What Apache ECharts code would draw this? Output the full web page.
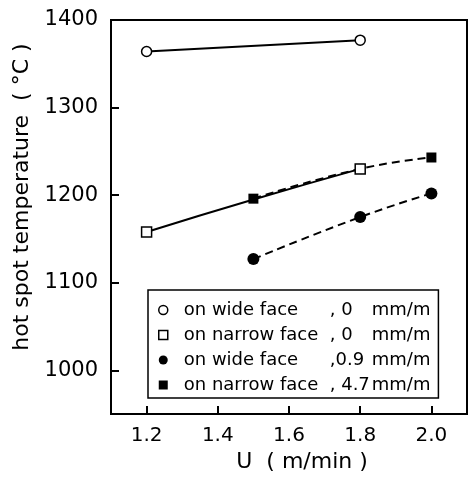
<!DOCTYPE html>
<html>
<head>
<meta charset="utf-8">
<script src="https://cdn.jsdelivr.net/npm/echarts@6/dist/echarts.min.js"></script>
<style>html,body{margin:0;padding:0;background:#fff}#c{width:469px;height:478px}</style>
</head>
<body>
<div id="c"></div>
<script>
// Data
const xTicks = [1.2, 1.4, 1.6, 1.8, 2.0];
const yTicks = [1000, 1100, 1200, 1300, 1400];
const seriesNames = [
  'on wide face , 0 mm/m',
  'on narrow face, 0 mm/m',
  'on wide face ,0.9 mm/m',
  'on narrow face, 4.7 mm/m'
];
const legendParts = [
  ['on wide face', ', 0', 'mm/m'],
  ['on narrow face', ', 0', 'mm/m'],
  ['on wide face', ',0.9', 'mm/m'],
  ['on narrow face', ', 4.7', 'mm/m']
];
const wide0 = [[1.2, 1364], [1.8, 1377]];
const narrow0 = [[1.2, 1158], [1.5, 1195], [1.8, 1230]];
const narrow0Marked = [true, false, true];
const wide09 = [[1.5, 1127], [1.8, 1175], [2.0, 1202]];
const narrow47 = [[1.5, 1196], [1.8, 1230], [2.0, 1243]];

const font = 'DejaVu Sans';
const chart = echarts.init(document.getElementById('c'));
const icons = ['circle', 'rect', 'circle', 'rect'];
const lf = 18;

chart.setOption({
  animation: false,
  backgroundColor: '#fff',
  textStyle: { fontFamily: font, color: '#000' },
  grid: {
    left: 111, right: 2, top: 20, height: 397,
    show: true, borderColor: '#000', borderWidth: 2, backgroundColor: 'transparent'
  },
  xAxis: {
    type: 'value', min: 1.1, max: 2.1,
    name: 'U  ( m/min )', nameLocation: 'middle', nameGap: 33,
    nameTextStyle: { fontSize: 22, color: '#000', fontFamily: font, padding: [0, 0, 0, 26] },
    axisLine: { show: true, lineStyle: { color: '#000', width: 2 } },
    axisTick: { show: true, inside: true, length: 8, lineStyle: { color: '#000', width: 2 }, customValues: xTicks },
    axisLabel: { color: '#000', fontSize: 20, fontFamily: font, margin: 12, customValues: xTicks,
      formatter: v => v.toFixed(1) },
    splitLine: { show: false }
  },
  yAxis: {
    type: 'value', min: 950, max: 1400,
    name: 'hot spot temperature  ( °C )', nameLocation: 'middle', nameGap: 68, nameRotate: 90,
    nameTextStyle: { fontSize: 22, color: '#000', fontFamily: font, padding: [0, 0, 0, 40] },
    axisLine: { show: true, lineStyle: { color: '#000', width: 2 } },
    axisTick: { show: true, inside: true, length: 8, lineStyle: { color: '#000', width: 2 }, customValues: yTicks },
    axisLabel: { color: '#000', fontSize: 21, fontFamily: font, margin: 13, customValues: yTicks,
      formatter: v => String(v) },
    splitLine: { show: false }
  },
  legend: {
    orient: 'vertical', left: 148, top: 290,
    borderColor: '#000', borderWidth: 1.5, backgroundColor: '#fff',
    padding: [11, 8, 4, 10],
    itemWidth: 9, itemHeight: 9, itemGap: 7,
    data: seriesNames.map((n, i) => ({
      name: n, icon: icons[i],
      itemStyle: i < 2 ? { color: '#fff', borderColor: '#000', borderWidth: 1.5 } : { color: '#000', borderColor: '#000', borderWidth: 0 }
    })),
    formatter: name => {
      const p = legendParts[seriesNames.indexOf(name)];
      return '{a|' + p[0] + '}{b|' + p[1] + '}{d|' + p[2] + '}';
    },
    textStyle: {
      color: '#000', fontFamily: font, fontSize: lf, lineHeight: 18, padding: [0, 0, 0, 11],
      rich: {
        a: { width: 146, fontSize: lf, lineHeight: 18, fontFamily: font, color: '#000' },
        b: { width: 42, fontSize: lf, lineHeight: 18, fontFamily: font, color: '#000' },
        d: { width: 57, fontSize: lf, lineHeight: 18, fontFamily: font, color: '#000' }
      }
    }
  },
  series: [
    {
      name: seriesNames[0], type: 'line', data: wide0, smooth: true,
      symbol: 'circle', symbolSize: 10,
      itemStyle: { color: '#fff', borderColor: '#000', borderWidth: 1.5 },
      lineStyle: { color: '#000', width: 2 }, z: 3
    },
    {
      name: seriesNames[1], type: 'line', smooth: true,
      data: narrow0.map((d, i) => narrow0Marked[i] ? { value: d } : { value: d, symbol: 'none' }),
      symbol: 'rect', symbolSize: 10,
      itemStyle: { color: '#fff', borderColor: '#000', borderWidth: 1.5 },
      lineStyle: { color: '#000', width: 2 }, z: 4
    },
    {
      name: seriesNames[2], type: 'line', data: wide09, smooth: true,
      symbol: 'circle', symbolSize: 12,
      itemStyle: { color: '#000' },
      lineStyle: { color: '#000', width: 2, type: [8, 5] }, z: 3
    },
    {
      name: seriesNames[3], type: 'line', data: narrow47, smooth: true,
      symbol: 'rect', symbolSize: 10,
      itemStyle: { color: '#000' },
      lineStyle: { color: '#000', width: 2, type: [8, 5] }, z: 3
    }
  ]
});
</script>
</body>
</html>
